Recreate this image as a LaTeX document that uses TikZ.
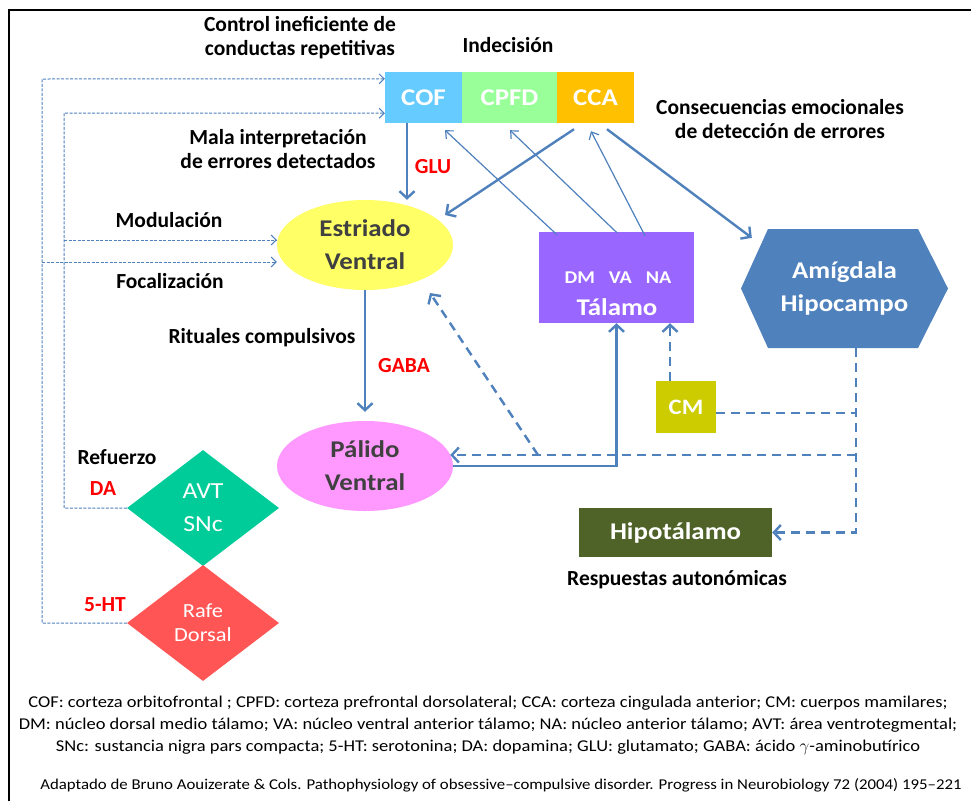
\documentclass[tikz,border=0pt]{standalone}
\usepackage{fontspec}
\setmainfont{Carlito}
\newfontfamily\widefont[FakeStretch=1.12]{Carlito}
\usepackage{tikz}
\usetikzlibrary{arrows.meta,shapes.geometric}
\definecolor{linec}{HTML}{4F81BD}
\definecolor{cofc}{HTML}{66CCFF}
\definecolor{cpfdc}{HTML}{99FF99}
\definecolor{ccac}{HTML}{FFC000}
\definecolor{estc}{HTML}{FFFF66}
\definecolor{palc}{HTML}{FF99FF}
\definecolor{talc}{HTML}{9966FF}
\definecolor{amic}{HTML}{4F81BD}
\definecolor{cmc}{HTML}{CCCC00}
\definecolor{hipc}{HTML}{4F6228}
\definecolor{avtc}{HTML}{00CC99}
\definecolor{rafc}{HTML}{FF5555}
\definecolor{ink}{HTML}{404040}

\begin{document}
\begin{tikzpicture}[x=1pt, y=-1pt,
  lbl/.style={font=\bfseries\fontsize{21.5}{24}\selectfont, align=center, inner sep=0pt},
  nt/.style={lbl, text=red},
  box/.style={rectangle, inner sep=0pt, text=white, align=center, font=\widefont\bfseries\fontsize{24}{33}\selectfont},
  oval/.style={ellipse, inner sep=0pt, minimum width=176pt, minimum height=90pt, align=center, text=ink, font=\widefont\bfseries\fontsize{24}{33}\selectfont},
  gem/.style={diamond, inner sep=0pt, minimum width=152pt, minimum height=116pt, align=center, text=white},
  arr/.style={-{Straight Barb[length=7pt,width=15pt]}, draw=linec, line width=2.4pt},
  tarr/.style={-{Straight Barb[length=6pt,width=11pt]}, draw=linec, line width=1.2pt},
  dsh/.style={arr, dash pattern=on 9pt off 6pt},
  dots/.style={-{Straight Barb[length=5pt,width=10pt]}, draw=linec, line width=1pt, dash pattern=on 3pt off 1.5pt}]
\useasboundingbox[fill=white] (0,0) rectangle (971,801);
\draw[line width=2.5pt] (9,801) -- (9,10) -- (971,10);

% corteza
\node[box, fill=cofc, minimum width=77pt, minimum height=51pt] (cof) at (423.5,97.5) {COF};
\node[box, fill=cpfdc, minimum width=95pt, minimum height=51pt] (cpfd) at (509.5,97.5) {CPFD};
\node[box, fill=ccac, minimum width=77pt, minimum height=51pt] (cca) at (595.5,97.5) {CCA};

\node[oval, fill=estc] (estr) at (365,245) {Estriado\\Ventral};
\node[oval, fill=palc] (pal) at (365,466) {Pálido\\Ventral};

\node[box, fill=talc, minimum width=155pt, minimum height=91pt] (tal) at (616.5,277.5) {};
\node[box, font=\widefont\bfseries\fontsize{18}{20}\selectfont] (talsub) at (618,278) {DM\hspace{14pt}VA\hspace{14pt}NA};
\node[box] (tallbl) at (617,307) {Tálamo};

\fill[amic] (741,288.5) -- (768,229) -- (918,229) -- (948,288.5) -- (918,348) -- (768,348) -- cycle;
\node[box, minimum width=207pt, minimum height=119pt] (amig) at (844.5,288.5) {Amígdala\\Hipocampo};

\node[box, fill=cmc, minimum width=60pt, minimum height=52pt, font=\widefont\bfseries\fontsize{22}{24}\selectfont] (cm) at (686,407) {CM};
\node[box, fill=hipc, minimum width=193pt, minimum height=49pt] (hipo) at (675.5,532.5) {Hipotálamo};

\node[gem, fill=avtc, font=\widefont\fontsize{23}{33}\selectfont] (avt) at (203,508) {AVT\\SNc};
\node[gem, fill=rafc, font=\widefont\fontsize{20}{24}\selectfont] (rafe) at (203,623) {Rafe\\Dorsal};

% rotulos
\node[lbl] (ctrl) at (300,38) {Control ineficiente de\\conductas repetitivas};
\node[lbl] (inde) at (508,45) {Indecisión};
\node[lbl] (cons) at (780,119) {Consecuencias emocionales\\de detección de errores};
\node[lbl] (mala) at (278,149) {Mala interpretación\\de errores detectados};
\node[nt] (glu) at (433,167) {GLU};
\node[lbl] (modu) at (169,220) {Modulación};
\node[lbl] (foca) at (170,281) {Focalización};
\node[lbl] (ritu) at (262,338) {Rituales compulsivos};
\node[nt] (gaba) at (404,366) {GABA};
\node[lbl] (refu) at (117,457) {Refuerzo};
\node[nt] (da) at (103,489) {DA};
\node[nt] (ht) at (105,605) {5-HT};
\node[lbl] (resp) at (677,580) {Respuestas autonómicas};

\node[align=center, inner sep=0pt, font=\widefont\fontsize{16.5}{22}\selectfont] (leg) at (488,725) {COF: corteza orbitofrontal ; CPFD: corteza prefrontal dorsolateral; CCA: corteza cingulada anterior; CM:  cuerpos mamilares;\\DM: núcleo dorsal medio tálamo; VA: núcleo ventral anterior tálamo; NA: núcleo anterior tálamo; AVT: área ventrotegmental;\\SNc: sustancia nigra pars compacta; 5-HT: serotonina; DA: dopamina; GLU: glutamato; GABA: ácido $\gamma$-aminobutírico};
\node[inner sep=0pt, font=\widefont\fontsize{15}{17}\selectfont] (src) at (501,785) {Adaptado de Bruno Aouizerate \& Cols. Pathophysiology of obsessive–compulsive disorder. Progress in Neurobiology 72 (2004) 195–221};

% vias moduladoras
\coordinate (fo) at (42,262);
\coordinate (mo) at (64,240);
\draw[dots] (rafe.west) -| (42,79) -- ([yshift=-7pt]cof.north west);
\draw[dots] (fo) -- ([yshift=-17pt]estr.west);
\draw[dots] (avt.west) -| (64,113) -- ([yshift=10pt]cof.south west);
\draw[dots] (mo) -- ([yshift=5pt]estr.west);

% vias principales
\coordinate (gl) at ([xshift=-16.5pt]cof.south);
\draw[arr] (gl) -- (gl |- estr.north);
\draw[arr, shorten >=9pt] (estr.south) -- (pal.north);
\draw[arr] ([shift={(-21.5,6)}]cca.south) -- ([shift={(80,-30)}]estr.center);
\draw[arr] ([shift={(11.5,6)}]cca.south) -- ([shift={(11,9)}]amig.north west);
\draw[tarr] ([shift={(-59.5,3)}]tal.north) -- ([shift={(21.5,7)}]cof.south);
\draw[tarr] ([shift={(0.5,1)}]tal.north) -- ([shift={(0.5,7)}]cpfd.south);
\draw[tarr] ([shift={(28.5,4)}]tal.north) -- ([shift={(-4.5,8)}]cca.south);
\draw[arr] (pal.east) -| (tal.south);

% vias discontinuas
\coordinate (cmt) at ([xshift=-16pt]cm.north);
\coordinate (am) at ([xshift=11.5pt]amig.south);
\coordinate (cj) at (856,421);
\coordinate (jn) at (856,455);
\coordinate (dg) at (538,455);
\draw[dsh] (cmt) -- (cmt |- tal.south);
\draw[dsh] (am) |- (hipo.east);
\draw[dsh, -] ([yshift=-6pt]cm.east) -| (cj);
\draw[dsh] (jn) -- ([shift={(-3,-11)}]pal.east);
\draw[dsh] (dg) -- ([shift={(65,48)}]estr.center);
\end{tikzpicture}
\end{document}
